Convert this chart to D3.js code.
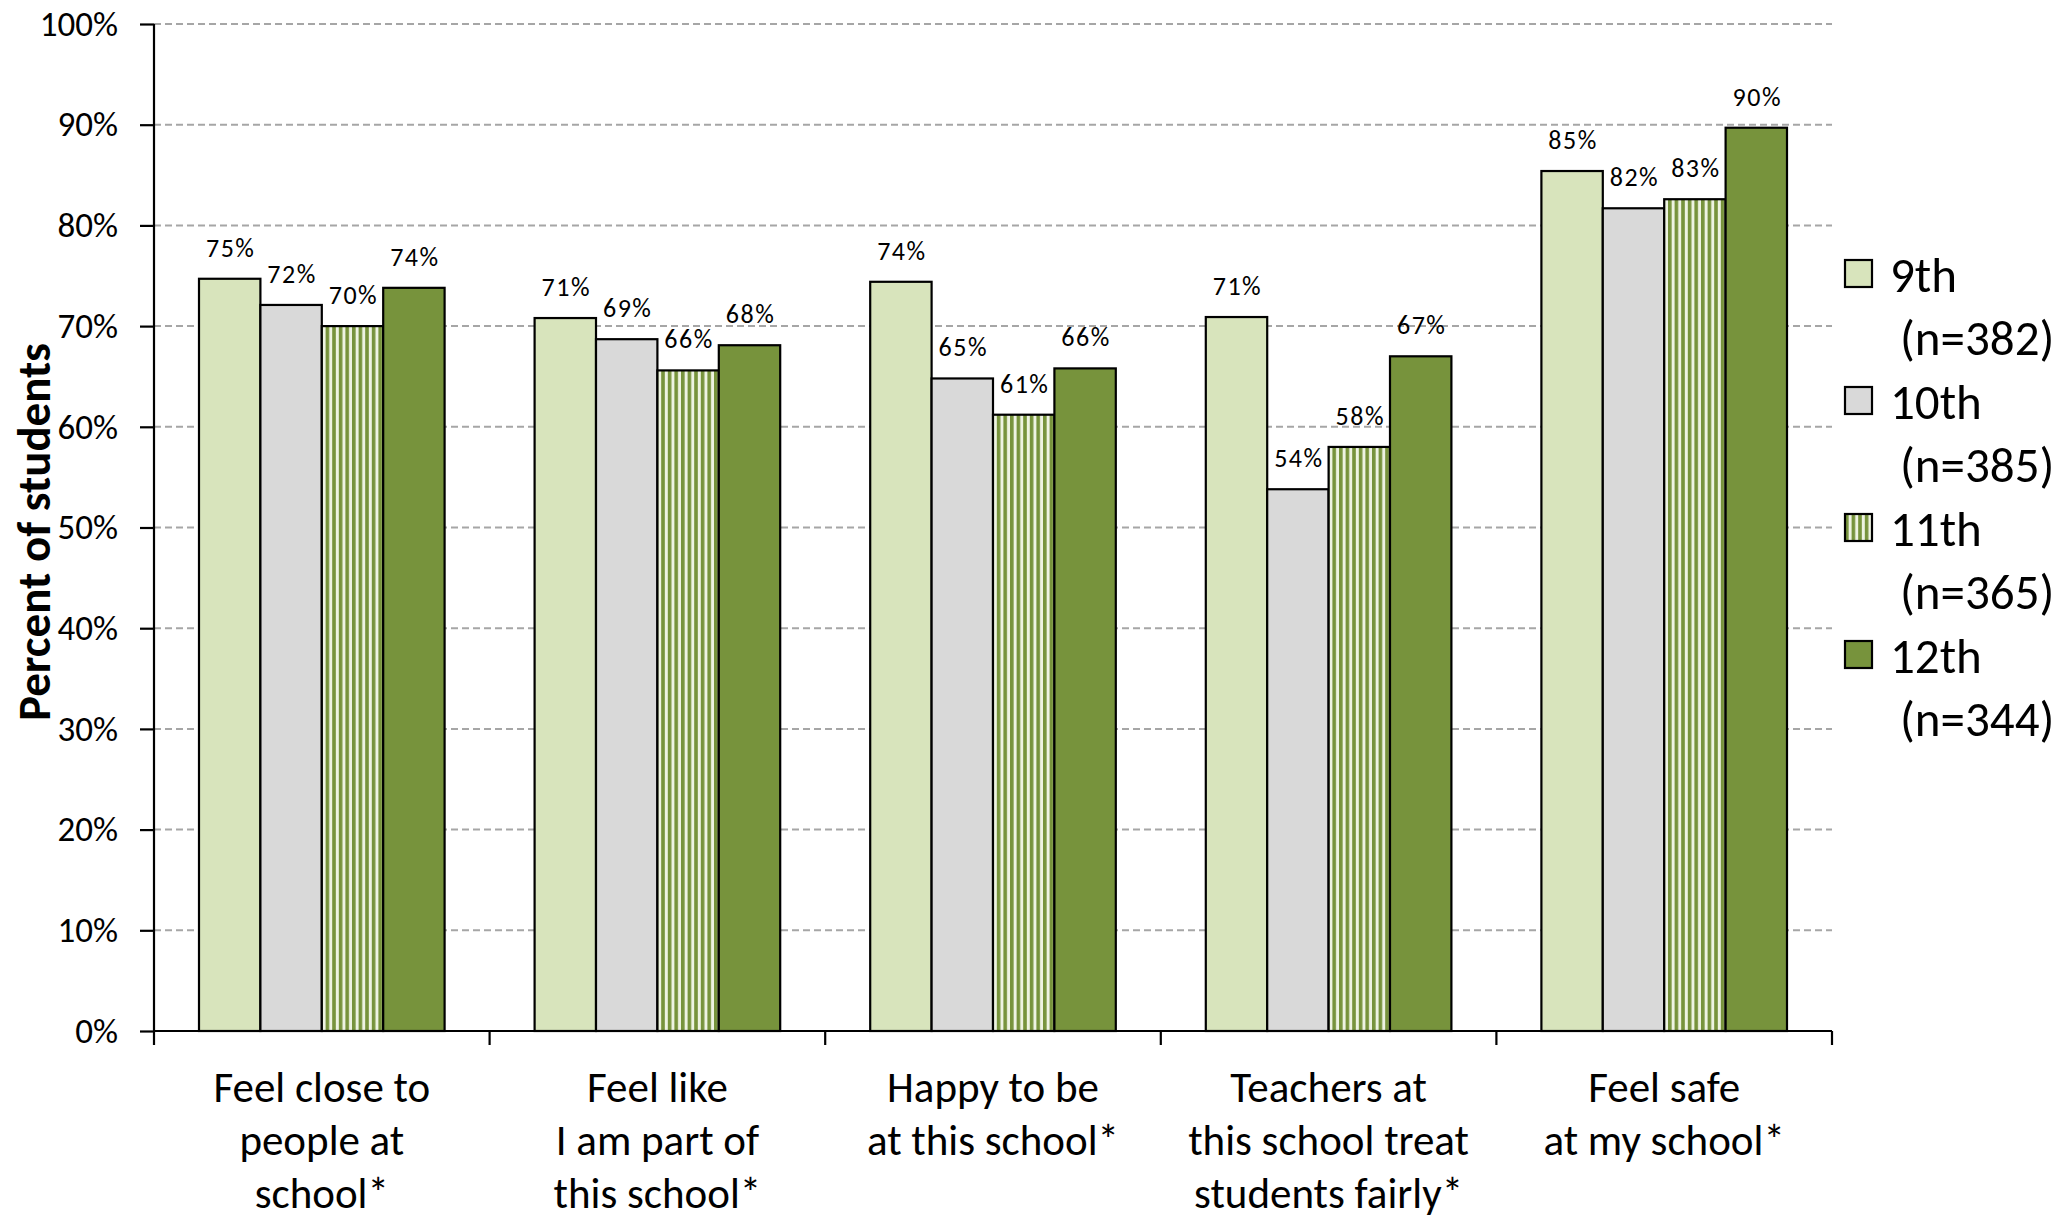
<!DOCTYPE html>
<html>
<head>
<meta charset="utf-8">
<script src="https://cdn.jsdelivr.net/npm/d3@7"></script>
<style>
  body { margin: 0; background: #fff; }
  svg { display: block; font-family: Carlito, Calibri, Lato, sans-serif; }
</style>
</head>
<body>
<div id="chart"></div>
<script>
// categories (each label split into its lines)
const categories = [
  ["Feel close to", "people at", "school*"],
  ["Feel like", "I am part of", "this school*"],
  ["Happy to be", "at this school*"],
  ["Teachers at", "this school treat", "students fairly*"],
  ["Feel safe", "at my school*"]
];
const grades = ["9th", "10th", "11th", "12th"];
const sampleSizes = ["(n=382)", "(n=385)", "(n=365)", "(n=344)"];

// percent of students, per grade
const grade9 = [74.7, 70.8, 74.4, 70.9, 85.4];
const grade10 = [72.1, 68.7, 64.8, 53.8, 81.7];
const grade11 = [70.0, 65.6, 61.2, 58.0, 82.6];
const grade12 = [73.8, 68.1, 65.8, 67.0, 89.7];

const yTicks = [0, 10, 20, 30, 40, 50, 60, 70, 80, 90, 100];

const seriesValues = [grade9, grade10, grade11, grade12];
const fills = ["#d8e4bc", "#d9d9d9", "url(#stripes)", "#77933c"];

const W = 2062, H = 1222;
const svg = d3.select("#chart").append("svg")
  .attr("width", W)
  .attr("height", H);

// vertical stripe pattern for 11th grade
const pat = svg.append("defs").append("pattern")
  .attr("id", "stripes")
  .attr("patternUnits", "userSpaceOnUse")
  .attr("width", 6.6)
  .attr("height", 10);
pat.append("rect").attr("width", 6.6).attr("height", 10).attr("fill", "#eef3e2");
pat.append("rect").attr("width", 3.6).attr("height", 10).attr("fill", "#77933c");

const x = d3.scaleBand()
  .domain(d3.range(categories.length))
  .range([154, 1832])
  .paddingInner(0)
  .paddingOuter(0);

const xInner = d3.scaleBand()
  .domain(d3.range(grades.length))
  .range([45, x.bandwidth() - 45]);

const y = d3.scaleLinear()
  .domain([0, 100])
  .range([1031, 24]);

// gridlines
svg.append("g")
  .selectAll("line")
  .data(yTicks.filter(t => t > 0))
  .enter().append("line")
  .attr("x1", 154)
  .attr("x2", 1832)
  .attr("y1", d => y(d))
  .attr("y2", d => y(d))
  .attr("stroke", "#a6a6a6")
  .attr("stroke-width", 2)
  .attr("stroke-dasharray", "7,4");

// bars
const groups = svg.append("g")
  .selectAll("g")
  .data(categories)
  .enter().append("g")
  .attr("transform", (d, i) => `translate(${x(i)},0)`);

groups.each(function(cat, ci) {
  const g = d3.select(this);
  const rows = seriesValues.map((vals, si) => ({ si, v: vals[ci] }));

  g.selectAll("rect")
    .data(rows)
    .enter().append("rect")
    .attr("x", d => xInner(d.si))
    .attr("y", d => y(d.v))
    .attr("width", xInner.bandwidth())
    .attr("height", d => y(0) - y(d.v))
    .attr("fill", d => fills[d.si])
    .attr("stroke", "#000")
    .attr("stroke-width", 2.2);

  g.selectAll("text.val")
    .data(rows)
    .enter().append("text")
    .attr("class", "val")
    .attr("x", d => xInner(d.si) + xInner.bandwidth() / 2 + 1)
    .attr("y", d => y(d.v) - 22)
    .attr("text-anchor", "middle")
    .style("font-size", "26px")
    .style("letter-spacing", "1.5px")
    .text(d => Math.round(d.v) + "%");
});

// y axis
const yAxis = svg.append("g")
  .attr("transform", "translate(154,0)")
  .call(d3.axisLeft(y).tickValues(yTicks).tickSize(14).tickPadding(22).tickFormat(d => d + "%"));
yAxis.select(".domain").attr("stroke-width", 2.2).attr("d", `M-0,${y(100)}V${y(0)}`);
yAxis.selectAll(".tick line").attr("stroke-width", 2.2);
yAxis.selectAll(".tick text")
  .style("font-size", "35px")
  .style("font-family", "Carlito, Calibri, Lato, sans-serif")
  .attr("fill", "#000");

// x axis with ticks at category boundaries
const xEdges = d3.range(categories.length + 1).map(i => 154 + i * x.step());
const xAxis = svg.append("g").attr("transform", `translate(0,${y(0)})`);
xAxis.append("line")
  .attr("x1", 154).attr("x2", 1832)
  .attr("stroke", "#000").attr("stroke-width", 2.2);
xAxis.selectAll("line.tk")
  .data(xEdges)
  .enter().append("line")
  .attr("class", "tk")
  .attr("x1", d => d).attr("x2", d => d)
  .attr("y1", 0).attr("y2", 14)
  .attr("stroke", "#000").attr("stroke-width", 2.2);

// category labels
svg.append("g")
  .selectAll("text")
  .data(categories)
  .enter().append("text")
  .attr("text-anchor", "middle")
  .style("font-size", "43px")
  .each(function(lines, i) {
    d3.select(this).selectAll("tspan")
      .data(lines)
      .enter().append("tspan")
      .attr("x", x(i) + x.bandwidth() / 2)
      .attr("y", (d, j) => 1102 + j * 53)
      .text(d => d);
  });

// y axis title
svg.append("text")
  .attr("transform", "translate(50,532) rotate(-90)")
  .attr("text-anchor", "middle")
  .style("font-size", "47px")
  .style("font-weight", "bold")
  .text("Percent of students");

// legend
const legend = svg.append("g")
  .selectAll("g")
  .data(grades)
  .enter().append("g")
  .attr("transform", (d, i) => `translate(1845,${260 + i * 127})`);

legend.append("rect")
  .attr("width", 27)
  .attr("height", 27)
  .attr("fill", (d, i) => fills[i])
  .attr("stroke", "#000")
  .attr("stroke-width", 2.2);

legend.append("text")
  .attr("x", 45)
  .attr("y", 32)
  .style("font-size", "49px")
  .text(d => d);

legend.append("text")
  .attr("x", 55)
  .attr("y", 95)
  .style("font-size", "49px")
  .text((d, i) => sampleSizes[i]);
</script>
</body>
</html>
